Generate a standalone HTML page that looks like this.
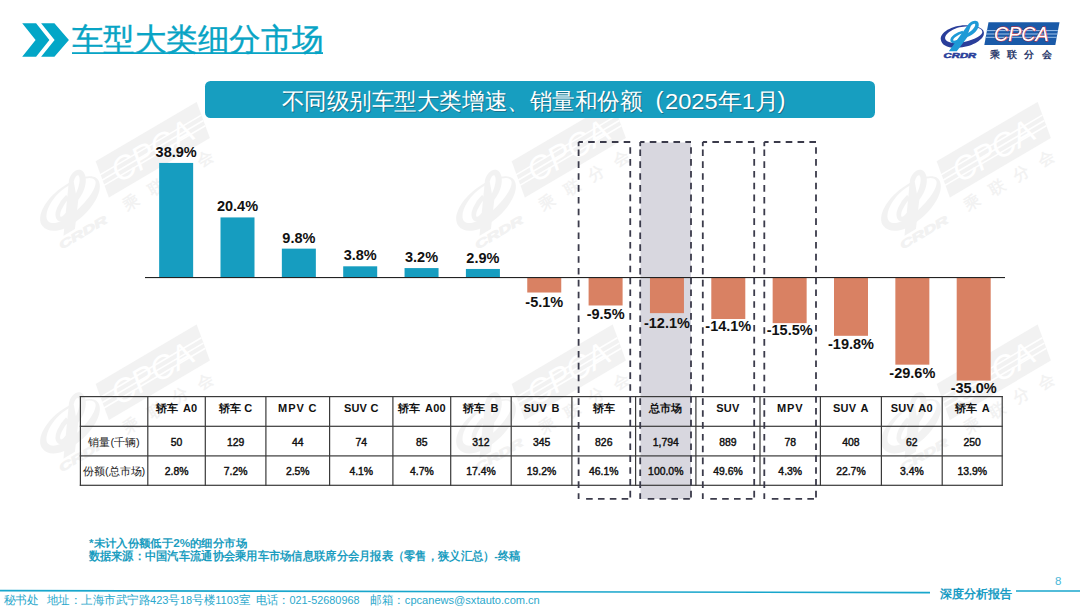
<!DOCTYPE html>
<html><head><meta charset="utf-8"><style>
html,body{margin:0;padding:0;background:#fff;}
body{width:1080px;height:608px;overflow:hidden;font-family:"Liberation Sans",sans-serif;}
svg{display:block;}
</style></head><body>
<svg width="1080" height="608" viewBox="0 0 1080 608">
<defs><g id="logo">
  <polygon points="53.5,7.2 124.5,7.2 120.3,30.1 49.3,30.1" fill="#1a5aa8"/>
  <g stroke="#9fc3ea" stroke-width="1">
    <line x1="51.6" y1="15.6" x2="122.9" y2="15.6"/>
    <line x1="51" y1="19" x2="122.3" y2="19"/>
    <line x1="50.4" y1="22.3" x2="121.7" y2="22.3"/>
  </g>
  <text x="59" y="25.9" textLength="54.7" lengthAdjust="spacingAndGlyphs" font-family="Liberation Sans" font-style="italic" font-size="20" fill="#fff" stroke="#d8282f" stroke-width="0.9" paint-order="stroke">CPCA</text>
  <text x="54.5" y="42.7" textLength="62" lengthAdjust="spacing" font-family="Liberation Sans" font-weight="bold" font-size="9.6" fill="#2b3a6b">乘联分会</text>
  <path fill-rule="evenodd" fill="#2a3e9a" d="M5.9,24.9 C4.5,17.5 17,10.5 30,10.3 C42,10.1 50.5,13.5 48.8,19.5 C47.5,25.5 36,32.2 22.5,32.8 C12,33.3 6.6,29.5 5.9,24.9 Z M10.2,23.8 C11.2,27.4 17.5,28.6 25,27.6 C36,26.2 46.5,21.2 47.3,17.4 C47.9,13.6 41,11.4 30.5,11.6 C19.5,11.9 9.3,19 10.2,23.8 Z"/>
  <path fill="#1e9ad6" d="M13.8,36.2 L21.8,36.2 L32.5,22 C38.5,19.8 45,13.8 43.6,8.2 C42.4,4.6 37.2,5.4 33.8,8.8 Z"/>
  <path fill="#fff" d="M33.2,18 C36.8,15.6 40.6,11.8 40.2,9.2 C39.4,8.2 37.6,9.2 35.8,11 Z"/>
  <path fill="none" stroke="#1e9ad6" stroke-width="2.8" d="M28,17 C22.5,18.3 16,22.5 16.8,25.8 C17.6,28 22.5,27 26,24.5"/>
  <text x="8.6" y="42.8" textLength="32.7" lengthAdjust="spacingAndGlyphs" font-family="Liberation Sans" font-weight="bold" font-style="italic" font-size="7" fill="#2a3e9a" stroke="#2a3e9a" stroke-width="0.5">CRDR</text>
</g><g id="wm">
  <polygon points="53.5,7.2 124.5,7.2 120.3,30.1 49.3,30.1" fill="#000"/>
  <g stroke="#fff" stroke-width="1">
    <line x1="51.6" y1="15.6" x2="122.9" y2="15.6"/>
    <line x1="51" y1="19" x2="122.3" y2="19"/>
    <line x1="50.4" y1="22.3" x2="121.7" y2="22.3"/>
  </g>
  <text x="59" y="25.9" textLength="54.7" lengthAdjust="spacingAndGlyphs" font-family="Liberation Sans" font-style="italic" font-size="20" fill="#fff" stroke="none" stroke-width="0.9" paint-order="stroke">CPCA</text>
  <text x="54.5" y="42.7" textLength="62" lengthAdjust="spacing" font-family="Liberation Sans" font-weight="bold" font-size="9.6" fill="#000">乘联分会</text>
  <path fill-rule="evenodd" fill="#000" d="M5.9,24.9 C4.5,17.5 17,10.5 30,10.3 C42,10.1 50.5,13.5 48.8,19.5 C47.5,25.5 36,32.2 22.5,32.8 C12,33.3 6.6,29.5 5.9,24.9 Z M10.2,23.8 C11.2,27.4 17.5,28.6 25,27.6 C36,26.2 46.5,21.2 47.3,17.4 C47.9,13.6 41,11.4 30.5,11.6 C19.5,11.9 9.3,19 10.2,23.8 Z"/>
  <path fill="#000" d="M13.8,36.2 L21.8,36.2 L32.5,22 C38.5,19.8 45,13.8 43.6,8.2 C42.4,4.6 37.2,5.4 33.8,8.8 Z"/>
  <path fill="#fff" d="M33.2,18 C36.8,15.6 40.6,11.8 40.2,9.2 C39.4,8.2 37.6,9.2 35.8,11 Z"/>
  <path fill="none" stroke="#000" stroke-width="2.8" d="M28,17 C22.5,18.3 16,22.5 16.8,25.8 C17.6,28 22.5,27 26,24.5"/>
  <text x="8.6" y="42.8" textLength="32.7" lengthAdjust="spacingAndGlyphs" font-family="Liberation Sans" font-weight="bold" font-style="italic" font-size="7" fill="#000" stroke="#000" stroke-width="0.5">CRDR</text>
</g></defs>
<g opacity="0.048" transform="translate(13.6,195.9) rotate(-30.5) scale(1.65)"><use href="#wm"/></g>
<g opacity="0.048" transform="translate(429.6,195.9) rotate(-30.5) scale(1.65)"><use href="#wm"/></g>
<g opacity="0.048" transform="translate(854.6,195.9) rotate(-30.5) scale(1.65)"><use href="#wm"/></g>
<g opacity="0.048" transform="translate(13.6,418.5) rotate(-30.5) scale(1.65)"><use href="#wm"/></g>
<g opacity="0.048" transform="translate(429.6,418.5) rotate(-30.5) scale(1.65)"><use href="#wm"/></g>
<g opacity="0.048" transform="translate(854.6,418.5) rotate(-30.5) scale(1.65)"><use href="#wm"/></g>
<polygon points="22.2,23.3 36.1,23.3 49.4,40 36.1,56.7 22.2,56.7 35.6,40" fill="#03a6c7"/>
<polygon points="41.1,23.3 54.4,23.3 68.9,40 54.4,56.7 41.1,56.7 54.6,40" fill="#03a6c7"/>
<text x="71.5" y="49.7" textLength="252" lengthAdjust="spacingAndGlyphs" font-family='"Liberation Sans", sans-serif' font-size="31" fill="#08a4c5" stroke="#08a4c5" stroke-width="0.35">车型大类细分市场</text>
<rect x="72" y="52.2" width="251" height="1.8" fill="#08a4c5"/>
<g transform="translate(935,15)"><use href="#logo"/></g>
<rect x="205" y="81" width="670" height="37" rx="5.5" fill="#179ec0"/>
<g transform="translate(1,1.5)" opacity="0.45" fill="#1d3f4c" font-family='"Liberation Sans", sans-serif' font-size="22.6">
<text x="281.5" y="108" textLength="361" lengthAdjust="spacingAndGlyphs">不同级别车型大类增速、销量和份额</text>
<text x="655.5" y="107" font-size="24">(</text>
<text x="665" y="108" textLength="114" lengthAdjust="spacingAndGlyphs">2025年1月</text>
<text x="777.5" y="107" font-size="24">)</text>
</g>
<g transform="translate(0,0.7)" opacity="1" fill="#fff" font-family='"Liberation Sans", sans-serif' font-size="22.6">
<text x="281.5" y="108" textLength="361" lengthAdjust="spacingAndGlyphs">不同级别车型大类增速、销量和份额</text>
<text x="655.5" y="107" font-size="24">(</text>
<text x="665" y="108" textLength="114" lengthAdjust="spacingAndGlyphs">2025年1月</text>
<text x="777.5" y="107" font-size="24">)</text>
</g>
<rect x="640.5" y="142.5" width="50.5" height="356.5" fill="#d8d7df"/>
<rect x="159.15" y="162.94" width="34" height="114.56" fill="#169dc0"/>
<text x="176.15" y="156.94" text-anchor="middle" font-family='"Liberation Sans", sans-serif' font-weight="bold" font-size="14.5" fill="#111">38.9%</text>
<rect x="220.50" y="217.42" width="34" height="60.08" fill="#169dc0"/>
<text x="237.50" y="211.42" text-anchor="middle" font-family='"Liberation Sans", sans-serif' font-weight="bold" font-size="14.5" fill="#111">20.4%</text>
<rect x="281.85" y="248.64" width="34" height="28.86" fill="#169dc0"/>
<text x="298.85" y="242.64" text-anchor="middle" font-family='"Liberation Sans", sans-serif' font-weight="bold" font-size="14.5" fill="#111">9.8%</text>
<rect x="343.20" y="266.31" width="34" height="11.19" fill="#169dc0"/>
<text x="360.20" y="260.31" text-anchor="middle" font-family='"Liberation Sans", sans-serif' font-weight="bold" font-size="14.5" fill="#111">3.8%</text>
<rect x="404.55" y="268.08" width="34" height="9.42" fill="#169dc0"/>
<text x="421.55" y="262.08" text-anchor="middle" font-family='"Liberation Sans", sans-serif' font-weight="bold" font-size="14.5" fill="#111">3.2%</text>
<rect x="465.90" y="268.96" width="34" height="8.54" fill="#169dc0"/>
<text x="482.90" y="262.96" text-anchor="middle" font-family='"Liberation Sans", sans-serif' font-weight="bold" font-size="14.5" fill="#111">2.9%</text>
<rect x="527.25" y="277.50" width="34" height="15.02" fill="#d98163"/>
<text x="544.25" y="306.70" text-anchor="middle" font-family='"Liberation Sans", sans-serif' font-weight="bold" font-size="14.5" fill="#111">-5.1%</text>
<rect x="588.60" y="277.50" width="34" height="27.98" fill="#d98163"/>
<text x="605.60" y="319.40" text-anchor="middle" font-family='"Liberation Sans", sans-serif' font-weight="bold" font-size="14.5" fill="#111">-9.5%</text>
<rect x="649.95" y="277.50" width="34" height="35.63" fill="#d98163"/>
<text x="666.95" y="327.50" text-anchor="middle" font-family='"Liberation Sans", sans-serif' font-weight="bold" font-size="14.5" fill="#111">-12.1%</text>
<rect x="711.30" y="277.50" width="34" height="41.52" fill="#d98163"/>
<text x="728.30" y="330.80" text-anchor="middle" font-family='"Liberation Sans", sans-serif' font-weight="bold" font-size="14.5" fill="#111">-14.1%</text>
<rect x="772.65" y="277.50" width="34" height="45.65" fill="#d98163"/>
<text x="789.65" y="335.30" text-anchor="middle" font-family='"Liberation Sans", sans-serif' font-weight="bold" font-size="14.5" fill="#111">-15.5%</text>
<rect x="834.00" y="277.50" width="34" height="58.31" fill="#d98163"/>
<text x="851.00" y="348.70" text-anchor="middle" font-family='"Liberation Sans", sans-serif' font-weight="bold" font-size="14.5" fill="#111">-19.8%</text>
<rect x="895.35" y="277.50" width="34" height="87.17" fill="#d98163"/>
<text x="912.35" y="377.50" text-anchor="middle" font-family='"Liberation Sans", sans-serif' font-weight="bold" font-size="14.5" fill="#111">-29.6%</text>
<rect x="956.70" y="277.50" width="34" height="103.07" fill="#d98163"/>
<text x="973.70" y="393.30" text-anchor="middle" font-family='"Liberation Sans", sans-serif' font-weight="bold" font-size="14.5" fill="#111">-35.0%</text>
<rect x="145" y="277" width="860" height="1.1" fill="#222"/>
<rect x="79.80000000000001" y="396.0" width="923.00" height="1.2" fill="#3a3a3a"/>
<rect x="79.80000000000001" y="425.7" width="923.00" height="1.2" fill="#3a3a3a"/>
<rect x="79.80000000000001" y="455.29999999999995" width="923.00" height="1.2" fill="#3a3a3a"/>
<rect x="79.80000000000001" y="484.7" width="923.00" height="1.2" fill="#3a3a3a"/>
<rect x="79.80" y="396.0" width="1.2" height="89.90" fill="#3a3a3a"/>
<rect x="147.20" y="396.0" width="1.2" height="89.90" fill="#3a3a3a"/>
<rect x="204.70" y="396.0" width="1.2" height="89.90" fill="#3a3a3a"/>
<rect x="265.30" y="396.0" width="1.2" height="89.90" fill="#3a3a3a"/>
<rect x="329.00" y="396.0" width="1.2" height="89.90" fill="#3a3a3a"/>
<rect x="392.30" y="396.0" width="1.2" height="89.90" fill="#3a3a3a"/>
<rect x="450.10" y="396.0" width="1.2" height="89.90" fill="#3a3a3a"/>
<rect x="510.60" y="396.0" width="1.2" height="89.90" fill="#3a3a3a"/>
<rect x="571.30" y="396.0" width="1.2" height="89.90" fill="#3a3a3a"/>
<rect x="635.00" y="396.0" width="1.2" height="89.90" fill="#3a3a3a"/>
<rect x="695.30" y="396.0" width="1.2" height="89.90" fill="#3a3a3a"/>
<rect x="759.40" y="396.0" width="1.2" height="89.90" fill="#3a3a3a"/>
<rect x="819.80" y="396.0" width="1.2" height="89.90" fill="#3a3a3a"/>
<rect x="880.80" y="396.0" width="1.2" height="89.90" fill="#3a3a3a"/>
<rect x="941.60" y="396.0" width="1.2" height="89.90" fill="#3a3a3a"/>
<rect x="1001.60" y="396.0" width="1.2" height="89.90" fill="#3a3a3a"/>
<text x="176.55" y="412" text-anchor="middle" font-family='"Liberation Sans", sans-serif' font-weight="bold" font-size="11" letter-spacing="0.2" word-spacing="1.5" fill="#111">轿车 A0</text>
<text transform="translate(176.55,445.8) scale(0.93,1)" text-anchor="middle" font-family='"Liberation Sans", sans-serif' font-size="11.2" fill="#111" stroke="#111" stroke-width="0.45">50</text>
<text transform="translate(176.55,474.7) scale(0.93,1)" text-anchor="middle" font-family='"Liberation Sans", sans-serif' font-size="11.2" fill="#111" stroke="#111" stroke-width="0.45">2.8%</text>
<text x="235.60" y="412" text-anchor="middle" font-family='"Liberation Sans", sans-serif' font-weight="bold" font-size="11" letter-spacing="0.2" word-spacing="0" fill="#111">轿车 C</text>
<text transform="translate(235.60,445.8) scale(0.93,1)" text-anchor="middle" font-family='"Liberation Sans", sans-serif' font-size="11.2" fill="#111" stroke="#111" stroke-width="0.45">129</text>
<text transform="translate(235.60,474.7) scale(0.93,1)" text-anchor="middle" font-family='"Liberation Sans", sans-serif' font-size="11.2" fill="#111" stroke="#111" stroke-width="0.45">7.2%</text>
<text x="297.75" y="412" text-anchor="middle" font-family='"Liberation Sans", sans-serif' font-weight="bold" font-size="11" letter-spacing="0.9" word-spacing="0" fill="#111">MPV C</text>
<text transform="translate(297.75,445.8) scale(0.93,1)" text-anchor="middle" font-family='"Liberation Sans", sans-serif' font-size="11.2" fill="#111" stroke="#111" stroke-width="0.45">44</text>
<text transform="translate(297.75,474.7) scale(0.93,1)" text-anchor="middle" font-family='"Liberation Sans", sans-serif' font-size="11.2" fill="#111" stroke="#111" stroke-width="0.45">2.5%</text>
<text x="361.25" y="412" text-anchor="middle" font-family='"Liberation Sans", sans-serif' font-weight="bold" font-size="11" letter-spacing="0.2" word-spacing="0" fill="#111">SUV C</text>
<text transform="translate(361.25,445.8) scale(0.93,1)" text-anchor="middle" font-family='"Liberation Sans", sans-serif' font-size="11.2" fill="#111" stroke="#111" stroke-width="0.45">74</text>
<text transform="translate(361.25,474.7) scale(0.93,1)" text-anchor="middle" font-family='"Liberation Sans", sans-serif' font-size="11.2" fill="#111" stroke="#111" stroke-width="0.45">4.1%</text>
<text x="421.80" y="412" text-anchor="middle" font-family='"Liberation Sans", sans-serif' font-weight="bold" font-size="11" letter-spacing="0.2" word-spacing="1.5" fill="#111">轿车 A00</text>
<text transform="translate(421.80,445.8) scale(0.93,1)" text-anchor="middle" font-family='"Liberation Sans", sans-serif' font-size="11.2" fill="#111" stroke="#111" stroke-width="0.45">85</text>
<text transform="translate(421.80,474.7) scale(0.93,1)" text-anchor="middle" font-family='"Liberation Sans", sans-serif' font-size="11.2" fill="#111" stroke="#111" stroke-width="0.45">4.7%</text>
<text x="480.95" y="412" text-anchor="middle" font-family='"Liberation Sans", sans-serif' font-weight="bold" font-size="11" letter-spacing="0.2" word-spacing="1.5" fill="#111">轿车 B</text>
<text transform="translate(480.95,445.8) scale(0.93,1)" text-anchor="middle" font-family='"Liberation Sans", sans-serif' font-size="11.2" fill="#111" stroke="#111" stroke-width="0.45">312</text>
<text transform="translate(480.95,474.7) scale(0.93,1)" text-anchor="middle" font-family='"Liberation Sans", sans-serif' font-size="11.2" fill="#111" stroke="#111" stroke-width="0.45">17.4%</text>
<text x="541.55" y="412" text-anchor="middle" font-family='"Liberation Sans", sans-serif' font-weight="bold" font-size="11" letter-spacing="0.2" word-spacing="1.5" fill="#111">SUV B</text>
<text transform="translate(541.55,445.8) scale(0.93,1)" text-anchor="middle" font-family='"Liberation Sans", sans-serif' font-size="11.2" fill="#111" stroke="#111" stroke-width="0.45">345</text>
<text transform="translate(541.55,474.7) scale(0.93,1)" text-anchor="middle" font-family='"Liberation Sans", sans-serif' font-size="11.2" fill="#111" stroke="#111" stroke-width="0.45">19.2%</text>
<text x="603.75" y="412" text-anchor="middle" font-family='"Liberation Sans", sans-serif' font-weight="bold" font-size="11" letter-spacing="0.2" word-spacing="1.5" fill="#111">轿车</text>
<text transform="translate(603.75,445.8) scale(0.93,1)" text-anchor="middle" font-family='"Liberation Sans", sans-serif' font-size="11.2" fill="#111" stroke="#111" stroke-width="0.45">826</text>
<text transform="translate(603.75,474.7) scale(0.93,1)" text-anchor="middle" font-family='"Liberation Sans", sans-serif' font-size="11.2" fill="#111" stroke="#111" stroke-width="0.45">46.1%</text>
<text x="665.75" y="412" text-anchor="middle" font-family='"Liberation Sans", sans-serif' font-weight="bold" font-size="11" letter-spacing="0.2" word-spacing="1.5" fill="#111">总市场</text>
<text transform="translate(665.75,445.8) scale(0.93,1)" text-anchor="middle" font-family='"Liberation Sans", sans-serif' font-size="11.2" fill="#111" stroke="#111" stroke-width="0.45">1,794</text>
<text transform="translate(665.75,474.7) scale(0.93,1)" text-anchor="middle" font-family='"Liberation Sans", sans-serif' font-size="11.2" fill="#111" stroke="#111" stroke-width="0.45">100.0%</text>
<text x="727.95" y="412" text-anchor="middle" font-family='"Liberation Sans", sans-serif' font-weight="bold" font-size="11" letter-spacing="0.2" word-spacing="1.5" fill="#111">SUV</text>
<text transform="translate(727.95,445.8) scale(0.93,1)" text-anchor="middle" font-family='"Liberation Sans", sans-serif' font-size="11.2" fill="#111" stroke="#111" stroke-width="0.45">889</text>
<text transform="translate(727.95,474.7) scale(0.93,1)" text-anchor="middle" font-family='"Liberation Sans", sans-serif' font-size="11.2" fill="#111" stroke="#111" stroke-width="0.45">49.6%</text>
<text x="790.20" y="412" text-anchor="middle" font-family='"Liberation Sans", sans-serif' font-weight="bold" font-size="11" letter-spacing="0.9" word-spacing="1.5" fill="#111">MPV</text>
<text transform="translate(790.20,445.8) scale(0.93,1)" text-anchor="middle" font-family='"Liberation Sans", sans-serif' font-size="11.2" fill="#111" stroke="#111" stroke-width="0.45">78</text>
<text transform="translate(790.20,474.7) scale(0.93,1)" text-anchor="middle" font-family='"Liberation Sans", sans-serif' font-size="11.2" fill="#111" stroke="#111" stroke-width="0.45">4.3%</text>
<text x="850.90" y="412" text-anchor="middle" font-family='"Liberation Sans", sans-serif' font-weight="bold" font-size="11" letter-spacing="0.2" word-spacing="1.5" fill="#111">SUV A</text>
<text transform="translate(850.90,445.8) scale(0.93,1)" text-anchor="middle" font-family='"Liberation Sans", sans-serif' font-size="11.2" fill="#111" stroke="#111" stroke-width="0.45">408</text>
<text transform="translate(850.90,474.7) scale(0.93,1)" text-anchor="middle" font-family='"Liberation Sans", sans-serif' font-size="11.2" fill="#111" stroke="#111" stroke-width="0.45">22.7%</text>
<text x="911.80" y="412" text-anchor="middle" font-family='"Liberation Sans", sans-serif' font-weight="bold" font-size="11" letter-spacing="0.2" word-spacing="1.5" fill="#111">SUV A0</text>
<text transform="translate(911.80,445.8) scale(0.93,1)" text-anchor="middle" font-family='"Liberation Sans", sans-serif' font-size="11.2" fill="#111" stroke="#111" stroke-width="0.45">62</text>
<text transform="translate(911.80,474.7) scale(0.93,1)" text-anchor="middle" font-family='"Liberation Sans", sans-serif' font-size="11.2" fill="#111" stroke="#111" stroke-width="0.45">3.4%</text>
<text x="972.20" y="412" text-anchor="middle" font-family='"Liberation Sans", sans-serif' font-weight="bold" font-size="11" letter-spacing="0.2" word-spacing="1.5" fill="#111">轿车 A</text>
<text transform="translate(972.20,445.8) scale(0.93,1)" text-anchor="middle" font-family='"Liberation Sans", sans-serif' font-size="11.2" fill="#111" stroke="#111" stroke-width="0.45">250</text>
<text transform="translate(972.20,474.7) scale(0.93,1)" text-anchor="middle" font-family='"Liberation Sans", sans-serif' font-size="11.2" fill="#111" stroke="#111" stroke-width="0.45">13.9%</text>
<text x="114.10" y="445.8" text-anchor="middle" font-family='"Liberation Sans", sans-serif' font-size="11" fill="#222">销量(千辆)</text>
<text x="114.10" y="474.7" text-anchor="middle" font-family='"Liberation Sans", sans-serif' font-size="11" fill="#222">份额(总市场)</text>
<g fill="none" stroke="#3b3b4b" stroke-width="1.8">
<path d="M578.6,142 H630.25" stroke-dasharray="6.6 5.25" stroke-dashoffset="2.3"/>
<path d="M630.25,142 V498.9" stroke-dasharray="6.6 5.25" stroke-dashoffset="6.65"/>
<path d="M578.6,149.5 V498.9" stroke-dasharray="6.6 5.25"/>
<path d="M578.6,146.2 V142"/>
<path d="M586.1,498.9 H630.25" stroke-dasharray="6.6 5.25"/>
</g>
<g fill="none" stroke="#3b3b4b" stroke-width="1.8">
<path d="M640.2,142 H691" stroke-dasharray="6.6 5.25" stroke-dashoffset="2.3"/>
<path d="M691,142 V498.9" stroke-dasharray="6.6 5.25" stroke-dashoffset="6.65"/>
<path d="M640.2,149.5 V498.9" stroke-dasharray="6.6 5.25"/>
<path d="M640.2,146.2 V142"/>
<path d="M647.7,498.9 H691" stroke-dasharray="6.6 5.25"/>
</g>
<g fill="none" stroke="#3b3b4b" stroke-width="1.8">
<path d="M702.8,142 H754.2" stroke-dasharray="6.6 5.25" stroke-dashoffset="2.3"/>
<path d="M754.2,142 V498.9" stroke-dasharray="6.6 5.25" stroke-dashoffset="6.65"/>
<path d="M702.8,149.5 V498.9" stroke-dasharray="6.6 5.25"/>
<path d="M702.8,146.2 V142"/>
<path d="M710.3,498.9 H754.2" stroke-dasharray="6.6 5.25"/>
</g>
<g fill="none" stroke="#3b3b4b" stroke-width="1.8">
<path d="M764.3,142 H816" stroke-dasharray="6.6 5.25" stroke-dashoffset="2.3"/>
<path d="M816,142 V498.9" stroke-dasharray="6.6 5.25" stroke-dashoffset="6.65"/>
<path d="M764.3,149.5 V498.9" stroke-dasharray="6.6 5.25"/>
<path d="M764.3,146.2 V142"/>
<path d="M771.8,498.9 H816" stroke-dasharray="6.6 5.25"/>
</g>
<text x="89" y="546.5" textLength="158" lengthAdjust="spacingAndGlyphs" font-family='"Liberation Sans", sans-serif' font-weight="bold" font-size="11.3" fill="#1b9dc0">*未计入份额低于2%的细分市场</text>
<text x="88.5" y="559.5" textLength="432" lengthAdjust="spacingAndGlyphs" font-family='"Liberation Sans", sans-serif' font-weight="bold" font-size="11.5" fill="#1b9dc0">数据来源：中国汽车流通协会乘用车市场信息联席分会月报表（零售，狭义汇总）-终稿</text>
<line x1="0" y1="590.6" x2="930" y2="592.6" stroke="#18a6cc" stroke-width="1.6"/>
<line x1="1016" y1="591" x2="1080" y2="591" stroke="#18a6cc" stroke-width="1.6"/>
<text x="939.5" y="597.5" font-family="Liberation Serif, serif" font-weight="bold" font-size="12.2" fill="#1a9cc4">深度分析报告</text>
<text x="1055" y="585" font-family='"Liberation Sans", sans-serif' font-size="11.5" fill="#4ab8d8">8</text>
<text x="3.5" y="604" textLength="35.0" lengthAdjust="spacingAndGlyphs" font-family='"Liberation Sans", sans-serif' font-size="11.5" fill="#2aa8cc">秘书处</text>
<text x="46.5" y="604" textLength="204.0" lengthAdjust="spacingAndGlyphs" font-family='"Liberation Sans", sans-serif' font-size="11.5" fill="#2aa8cc">地址：上海市武宁路423号18号楼1103室</text>
<text x="255.5" y="604" textLength="104.0" lengthAdjust="spacingAndGlyphs" font-family='"Liberation Sans", sans-serif' font-size="11.5" fill="#2aa8cc">电话：021-52680968</text>
<text x="370.2" y="604" textLength="169.6" lengthAdjust="spacingAndGlyphs" font-family='"Liberation Sans", sans-serif' font-size="11.5" fill="#2aa8cc">邮箱：cpcanews@sxtauto.com.cn</text>
</svg>
</body></html>
